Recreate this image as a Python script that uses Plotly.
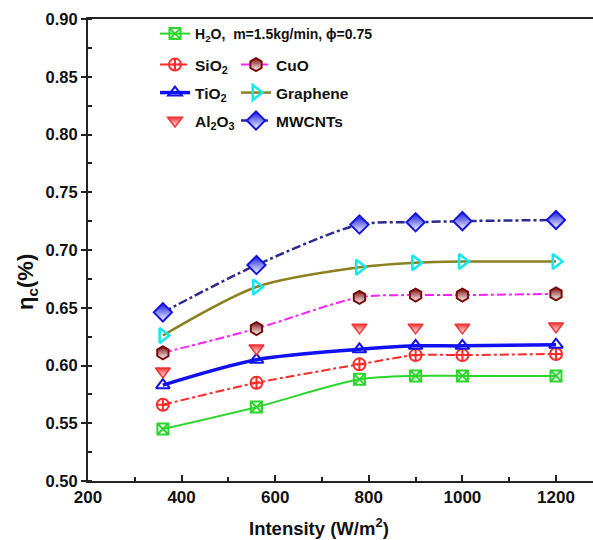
import plotly.graph_objects as go

intensity = [360, 560, 780, 900, 1000, 1200]
h2o = [0.545, 0.564, 0.588, 0.591, 0.591, 0.591]
sio2 = [0.566, 0.585, 0.601, 0.609, 0.609, 0.610]
tio2 = [0.583, 0.605, 0.614, 0.617, 0.617, 0.618]
al2o3 = [0.595, 0.615, 0.633, 0.633, 0.633, 0.634]
cuo = [0.611, 0.632, 0.659, 0.661, 0.661, 0.662]
graphene = [0.626, 0.668, 0.685, 0.689, 0.690, 0.690]
mwcnts = [0.646, 0.687, 0.722, 0.724, 0.725, 0.726]

FONT = "Liberation Sans, Arial, sans-serif"

series = [
    dict(name="H<sub>2</sub>O,&nbsp;&nbsp;m=1.5kg/min, \u03d5=0.75", y=h2o, mode="lines+markers",
         line=dict(color="#2BD62B", width=2, dash="solid"),
         marker=dict(symbol="square-x-open", size=11, color="#2BD62B", line=dict(width=2, color="#2BD62B")),
         legend="legend", lx=155, ly=34, fs=14),
    dict(name="SiO<sub>2</sub>", y=sio2, mode="lines+markers",
         line=dict(color="#FF2A2A", width=2, dash="dashdot"),
         marker=dict(symbol="circle-cross-open", size=12, color="#FF2A2A", line=dict(width=2, color="#FF2A2A")),
         legend="legend2", lx=155, ly=65, fs=15.5),
    dict(name="CuO", y=cuo, mode="lines+markers",
         line=dict(color="#FF22FF", width=2, dash="dashdot"),
         marker=dict(symbol="hexagon", size=13, color="#7A0A0A",
                     gradient=dict(type="vertical", color="white"), line=dict(width=2, color="#7A0A0A")),
         legend="legend3", lx=236, ly=65, fs=15.5),
    dict(name="TiO<sub>2</sub>", y=tio2, mode="lines+markers",
         line=dict(color="#1010F0", width=3.5, dash="solid"),
         marker=dict(symbol="triangle-up-open", size=12, color="#1010F0", line=dict(width=2, color="#1010F0")),
         legend="legend4", lx=155, ly=93, fs=15.5),
    dict(name="Graphene", y=graphene, mode="lines+markers",
         line=dict(color="#8A8020", width=2.5, dash="solid"),
         marker=dict(symbol="triangle-right-open", size=13, color="#10E8F0", line=dict(width=2.5, color="#10E8F0")),
         legend="legend5", lx=236, ly=93, fs=15.5),
    dict(name="Al<sub>2</sub>O<sub>3</sub>", y=al2o3, mode="markers",
         line=dict(color="#EE3333", width=2),
         marker=dict(symbol="triangle-down", size=13, color="#EE3333",
                     gradient=dict(type="vertical", color="white"), line=dict(width=1.5, color="#EE3333")),
         legend="legend6", lx=155, ly=121, fs=15.5),
    dict(name="MWCNTs", y=mwcnts, mode="lines+markers",
         line=dict(color="#2A2A90", width=2.5, dash="dashdot"),
         marker=dict(symbol="diamond", size=14, color="#1515E0",
                     gradient=dict(type="vertical", color="white"), line=dict(width=2, color="#1515E0")),
         legend="legend7", lx=236, ly=121, fs=15.5),
]

W, H = 593, 540
ML, MR, MT, MB = 88, 0, 19, 59
PW, PH = W - ML - MR, H - MT - MB

fig = go.Figure()
layout_legends = {}
for s in series:
    fig.add_trace(go.Scatter(
        x=intensity, y=s["y"], name=s["name"], mode=s["mode"],
        line=dict(shape="spline", smoothing=0.8, **s["line"]),
        marker=s["marker"], legend=s["legend"],
    ))
    layout_legends[s["legend"]] = dict(
        x=(s["lx"] - ML) / PW, y=(H - MB - s["ly"]) / PH,
        xanchor="left", yanchor="middle", bgcolor="rgba(0,0,0,0)",
        font=dict(family=FONT, size=s["fs"], color="#111111", weight="bold"),
        itemwidth=30,
    )

fig.update_layout(
    width=W, height=H,
    margin=dict(l=ML, r=MR, t=MT, b=MB),
    paper_bgcolor="white", plot_bgcolor="white",
    showlegend=True,
    font=dict(family=FONT, color="#111111"),
    **layout_legends,
)

fig.update_xaxes(
    range=[200, 200 + PW / 0.468], dtick=200, tick0=200,
    showline=True, linecolor="#222222", linewidth=2, mirror=True,
    ticks="inside", ticklen=6, tickwidth=1.5, tickcolor="#222222",
    minor=dict(dtick=100, ticks="inside", ticklen=4, tickwidth=1.5, tickcolor="#222222"),
    showgrid=False, zeroline=False,
    tickfont=dict(family=FONT, size=17, color="#111111", weight="bold"),
)
fig.update_yaxes(
    range=[0.5, 0.9], dtick=0.05, tick0=0.5, tickformat=".2f",
    showline=True, linecolor="#222222", linewidth=2, mirror=False,
    ticks="outside", ticklen=5, tickwidth=1.5, tickcolor="#222222",
    minor=dict(dtick=0.025, ticks="inside", ticklen=4, tickwidth=1.5, tickcolor="#222222"),
    showgrid=False, zeroline=False,
    tickfont=dict(family=FONT, size=16.5, color="#111111", weight="bold"),
)

fig.add_annotation(
    text="Intensity (W/m<sup>2</sup>)", xref="paper", yref="paper",
    x=(319 - ML) / PW, y=(H - MB - 527) / PH, xanchor="center", yanchor="middle",
    showarrow=False, font=dict(family=FONT, size=18.5, color="#111111", weight="bold"),
)
fig.add_annotation(
    text="\u03b7<sub>c</sub>(%)", xref="paper", yref="paper", textangle=-90,
    x=(27 - ML) / PW, y=(H - MB - 282) / PH, xanchor="center", yanchor="middle",
    showarrow=False, font=dict(family=FONT, size=22, color="#111111", weight="bold"),
)

fig.write_html("out.html")
